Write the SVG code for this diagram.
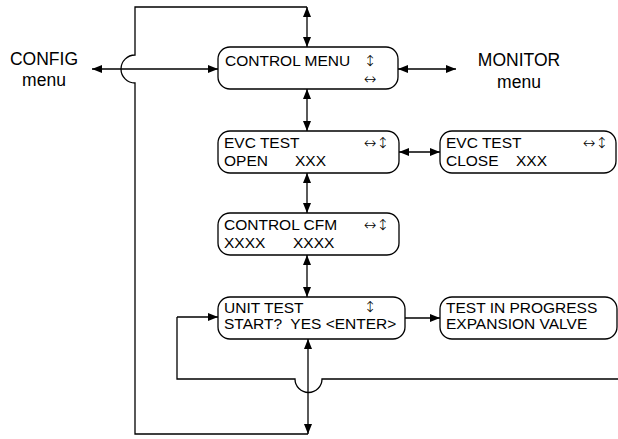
<svg xmlns="http://www.w3.org/2000/svg" width="618" height="439" viewBox="0 0 618 439">
<defs>
<marker id="ah" viewBox="0 0 10 8" refX="10" refY="4" markerWidth="10" markerHeight="8" markerUnits="userSpaceOnUse" orient="auto-start-reverse">
<path d="M0,0 L10,4 L0,8 z" fill="#000"/>
</marker>
<style>
.box{fill:#fff;stroke:#000;stroke-width:1.3}
.t{font-family:"Liberation Sans",Arial,sans-serif;font-size:15.5px;fill:#000}
.s{font-family:"DejaVu Sans",sans-serif;font-weight:200;font-size:15px;fill:#000}
.big{font-family:"Liberation Sans",Arial,sans-serif;font-size:17.5px;fill:#000;text-anchor:middle}
.c{fill:none;stroke:#000;stroke-width:1.3}
.a{fill:none;stroke:#000;stroke-width:1.3;marker-end:url(#ah)}
.d{fill:none;stroke:#000;stroke-width:1.3;marker-start:url(#ah);marker-end:url(#ah)}
</style>
</defs>
<g id="connectors">
<path class="c" d="M307,7 H135 V55 A14,14 0 0 0 135,83 V434 H308"/>
<path class="c" d="M618,379 H322 A13.5,13.5 0 0 1 295,379 H177 V317"/>
<path class="a" d="M177,317 H218"/>
<path class="d" d="M307,7 V47"/>
<path class="d" d="M92,69 H218"/>
<path class="d" d="M398,69 H456"/>
<path class="d" d="M307,89 V131"/>
<path class="d" d="M399,152 H440"/>
<path class="d" d="M307,173 V213"/>
<path class="d" d="M307,255 V297"/>
<path class="a" d="M405,318 H440"/>
<path class="d" d="M308,339 V434"/>
</g>
<g id="config">
<text class="big" x="44" y="65">CONFIG</text>
<text class="big" x="44" y="86">menu</text>
</g>
<g id="monitor">
<text class="big" x="519" y="66">MONITOR</text>
<text class="big" x="519" y="88">menu</text>
</g>
<g id="control-menu">
<rect class="box" x="218" y="47" width="180" height="42" rx="12"/>
<text class="t" x="225" y="66">CONTROL MENU</text>
<text class="s" x="370" y="66" text-anchor="middle">↕</text>
<text class="s" x="370" y="84" text-anchor="middle">↔</text>
</g>
<g id="evc-open">
<rect class="box" x="218" y="131" width="181" height="42" rx="12"/>
<text class="t" x="224" y="148">EVC TEST</text>
<text class="t" y="166"><tspan x="224">OPEN</tspan><tspan x="295">XXX</tspan></text>
<text class="s" x="389" y="148" text-anchor="end">↔↕</text>
</g>
<g id="evc-close">
<rect class="box" x="440" y="131" width="176" height="42" rx="12"/>
<text class="t" x="446" y="148">EVC TEST</text>
<text class="t" y="166"><tspan x="446">CLOSE</tspan><tspan x="516">XXX</tspan></text>
<text class="s" x="608" y="148" text-anchor="end">↔↕</text>
</g>
<g id="control-cfm">
<rect class="box" x="218" y="213" width="181" height="42" rx="12"/>
<text class="t" x="224" y="230">CONTROL CFM</text>
<text class="t" y="248"><tspan x="224">XXXX</tspan><tspan x="293">XXXX</tspan></text>
<text class="s" x="389" y="230" text-anchor="end">↔↕</text>
</g>
<g id="unit-test">
<rect class="box" x="218" y="297" width="187" height="42" rx="12"/>
<text class="t" x="224" y="313">UNIT TEST</text>
<text class="t" x="224" y="329" xml:space="preserve">START?  YES &lt;ENTER&gt;</text>
<text class="s" x="370" y="312" text-anchor="middle">↕</text>
</g>
<g id="test-progress">
<rect class="box" x="440" y="297" width="177" height="42" rx="12"/>
<text class="t" x="446" y="313">TEST IN PROGRESS</text>
<text class="t" x="446" y="329">EXPANSION VALVE</text>
</g>
</svg>
